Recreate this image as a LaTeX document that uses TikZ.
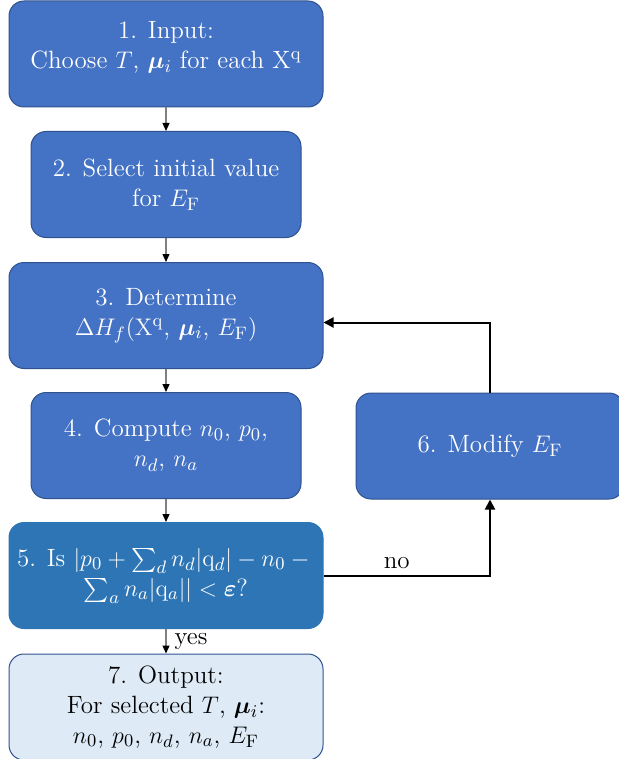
\documentclass[tikz,border=0pt]{standalone}
\usepackage{amsmath}
\usepackage{bm}
\usetikzlibrary{arrows.meta}

\definecolor{boxblue}{HTML}{4472C4}
\definecolor{boxedge}{HTML}{2F528F}
\definecolor{checkblue}{HTML}{2E75B6}
\definecolor{outfill}{HTML}{DEEBF7}

\begin{document}
\begin{tikzpicture}[x=0.5pt,y=-0.5pt,
    stepbox/.style={draw=boxedge,fill=boxblue,line width=0.5pt,rounded corners=7.5pt,
      text=white,align=center,minimum height=53pt,inner sep=2pt,
      font=\fontsize{12.5}{15}\selectfont},
    wide/.style={minimum width=157pt},
    narrow/.style={minimum width=135pt},
    flow/.style={draw=gray,line width=0.6pt,-{Triangle[black,length=4pt,width=3.5pt]}},
    loopback/.style={draw=black,line width=1pt,-{Triangle[length=5pt,width=5pt]}}]
      \useasboundingbox (0,0) rectangle (618,759);
      \node[stepbox,wide] (input) at (166,54) {1. Input:\\Choose $T$, $\bm{\mu}_i$ for each X$^{\mathrm{q}}$\\[-6pt]};
      \node[stepbox,narrow] (guess) at (166,184.5) {2. Select initial value\\for $E_{\mathrm{F}}$};
      \node[stepbox,wide] (enthalpy) at (166,315.5) {3. Determine\\$\Delta H_f(\mathrm{X}^{\mathrm{q}}$, $\bm{\mu}_i$, $E_{\mathrm{F}})$};
      \node[stepbox,narrow] (carriers) at (166,445.5) {4. Compute $n_0$, $p_0$,\\$n_d$, $n_a$};
      \node[stepbox,wide,fill=checkblue,draw=checkblue] (check) at (166,575.5) {5. Is $|p_0+\sum_d n_d|\mathrm{q}_d|-n_0-{}$\\$\sum_a n_a|\mathrm{q}_a||<\bm{\varepsilon}$?};
      \node[stepbox,wide,fill=outfill,text=black] (output) at (166,707) {7. Output:\\For selected $T$, $\bm{\mu}_i$:\\$n_0$, $p_0$, $n_d$, $n_a$, $E_{\mathrm{F}}$};
      \node[stepbox,minimum width=134pt] (modify) at (490,446) {6. Modify $E_{\mathrm{F}}$};
      % main flow
      \draw[flow] (input) -- (guess);
      \draw[flow] (guess) -- (enthalpy);
      \draw[flow] (enthalpy) -- (carriers);
      \draw[flow] (carriers) -- (check);
      \draw[flow] (check) -- node[right,font=\fontsize{12.5}{15}\selectfont,inner sep=4pt] {yes} (output);
      % loop back
      \draw[loopback] (check.east) -| node[pos=0.22,above,font=\fontsize{12.5}{15}\selectfont,inner sep=3pt] {no} (modify.south);
      \draw[loopback] (modify.north) |- ([yshift=-3.5pt]enthalpy.east);
    \end{tikzpicture}
\end{document}
